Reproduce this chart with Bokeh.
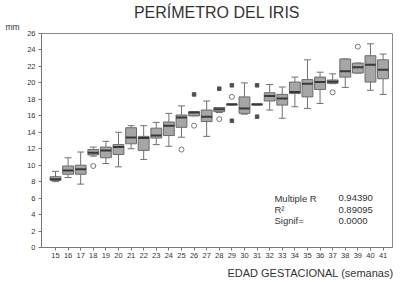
from bokeh.plotting import figure
from bokeh.models import ColumnDataSource, Label, Range1d, FixedTicker, Title
from bokeh.embed import file_html
from bokeh.resources import INLINE

# ---- data ----
weeks = list(range(15, 42))
mins = [8.0, 8.5, 7.7, 11.1, 10.2, 9.8, 12.0, 10.7, 12.5, 12.3, 13.4, 16.0, 13.5, 16.4,
        17.3, 16.2, 17.3, 16.7, 15.7, 17.1, 16.9, 17.5, 19.9, 19.45, 21.2, 19.1, 18.6]
q1 = [8.15, 8.9, 8.9, 11.25, 10.9, 11.3, 12.6, 11.8, 13.3, 13.6, 14.6, 16.0, 15.3, 16.5,
      17.3, 16.3, 17.3, 17.8, 17.3, 18.7, 18.3, 19.2, 19.95, 20.7, 21.2, 20.1, 20.5]
medians = [8.3, 9.35, 9.5, 11.5, 11.8, 12.2, 13.35, 13.3, 13.6, 14.8, 15.8, 16.4, 15.9, 16.8,
           17.4, 16.9, 17.4, 18.4, 18.1, 18.9, 19.9, 20.1, 20.15, 21.4, 21.9, 22.2, 21.6]
q3 = [8.6, 9.9, 10.0, 11.9, 12.2, 12.5, 14.55, 13.5, 14.5, 15.25, 16.1, 16.5, 16.7, 17.0,
      17.4, 18.3, 17.4, 18.8, 18.6, 20.1, 20.4, 20.7, 20.35, 22.9, 22.4, 23.3, 22.8]
maxs = [9.25, 10.9, 11.6, 12.2, 12.9, 14.0, 14.8, 14.8, 15.2, 16.3, 17.2, 16.5, 17.8, 17.0,
        17.4, 20.0, 17.4, 19.8, 19.5, 20.7, 22.8, 21.3, 21.1, 22.9, 22.4, 24.75, 23.5]

outlier_weeks = [18, 25, 26, 28, 29, 37, 39]
outlier_vals = [9.9, 11.9, 14.8, 15.6, 18.3, 18.85, 24.4]
extreme_weeks = [26, 28, 29, 29, 31, 31]
extreme_vals = [18.6, 19.3, 19.7, 15.4, 19.7, 15.9]

y_ticks = list(range(0, 27, 2))
title_text = "PERÍMETRO DEL IRIS"
x_label = "EDAD GESTACIONAL (semanas)"
y_unit = "mm"
stat_names = ["Multiple R", "R²", "Signif="]
stat_values = ["0.94390", "0.89095", "0.0000"]

# ---- figure ----
FONT = "Liberation Sans"
TXT = "#333333"
p = figure(width=400, height=283, output_backend="svg", toolbar_location=None,
           x_range=Range1d(13.89, 41.75), y_range=Range1d(0, 26),
           min_border_left=41, min_border_right=8, min_border_top=0, min_border_bottom=0)
p.background_fill_color = "white"
p.border_fill_color = "white"
p.outline_line_color = "#8a8a8a"
p.grid.visible = False

# main title (outer), unit label "mm" (inner, next to the frame)
p.title.text = title_text
p.title.align = "center"
p.title.standoff = 2
p.title.text_font = FONT
p.title.text_font_size = "16px"
p.title.text_font_style = "normal"
p.title.text_color = TXT
p.add_layout(Title(text=y_unit, align="left", offset=-36, standoff=0, vertical_align="top",
                   text_font=FONT, text_font_size="8.5px", text_font_style="normal",
                   text_color=TXT), "above")
# x label, right-aligned under the axis
p.add_layout(Title(text=x_label, align="right", offset=-1, standoff=9, text_font=FONT,
                   text_font_size="11px", text_font_style="normal", text_color=TXT), "below")

box_w = 0.86
cap_w = 0.55
src = ColumnDataSource(dict(
    x=weeks, lo=mins, q1=q1, med=medians, q3=q3, hi=maxs,
    xl=[w - box_w / 2 for w in weeks], xr=[w + box_w / 2 for w in weeks],
    cl=[w - cap_w / 2 for w in weeks], cr=[w + cap_w / 2 for w in weeks],
))
wc = "#707070"
p.segment(x0="x", y0="q3", x1="x", y1="hi", source=src, line_color=wc, line_width=1)
p.segment(x0="x", y0="q1", x1="x", y1="lo", source=src, line_color=wc, line_width=1)
p.segment(x0="cl", y0="hi", x1="cr", y1="hi", source=src, line_color=wc, line_width=1)
p.segment(x0="cl", y0="lo", x1="cr", y1="lo", source=src, line_color=wc, line_width=1)
p.vbar(x="x", width=box_w, bottom="q1", top="q3", source=src,
       fill_color="#a6a6a6", line_color="#6a6a6a", line_width=1)
p.segment(x0="xl", y0="med", x1="xr", y1="med", source=src, line_color="#383838", line_width=2)

p.scatter(outlier_weeks, outlier_vals, marker="circle", size=5, fill_color=None,
          line_color="#777777", line_width=1)
p.scatter(extreme_weeks, extreme_vals, marker="square", size=3.5, fill_color="#505050",
          line_color="#505050")

for ax in (p.xaxis[0], p.yaxis[0]):
    ax.axis_line_color = "#777777"
    ax.major_tick_line_color = "#777777"
    ax.minor_tick_line_color = None
    ax.major_tick_in = 0
    ax.major_tick_out = 3
    ax.major_label_text_font = FONT
    ax.major_label_text_font_size = "7.5px"
    ax.major_label_text_color = TXT
p.xaxis.ticker = FixedTicker(ticks=weeks)
p.yaxis.ticker = FixedTicker(ticks=y_ticks)
p.xaxis.major_label_standoff = 2
p.yaxis.major_label_standoff = 3

for i, (n, v) in enumerate(zip(stat_names, stat_values)):
    yy = 5.98 - i * 1.38
    p.add_layout(Label(x=32.38, y=yy, text=n, text_align="left", text_baseline="middle",
                       text_font=FONT, text_font_size="9.5px", text_color=TXT))
    p.add_layout(Label(x=37.46, y=yy, text=v, text_align="left", text_baseline="middle",
                       text_font=FONT, text_font_size="9.5px", text_color=TXT))

open("out.html", "w").write(file_html(p, INLINE))
